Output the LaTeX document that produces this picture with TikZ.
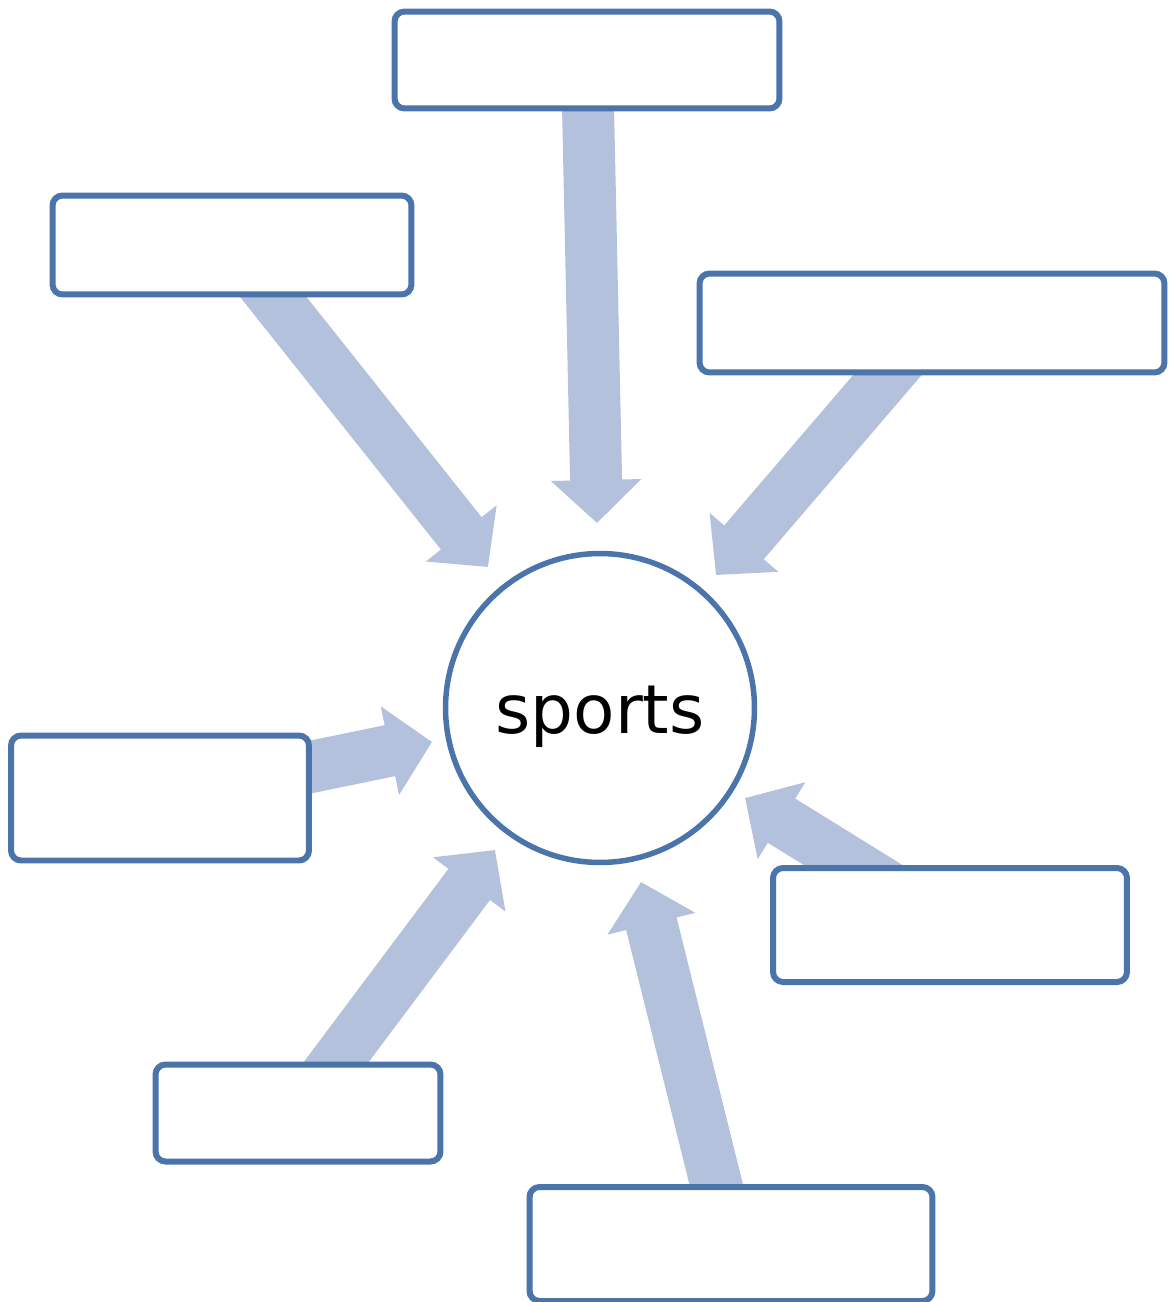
\documentclass[tikz,border=0pt]{standalone}
\usepackage{fontspec}
\setmainfont{DejaVu Sans}
\usetikzlibrary{arrows.meta}
\pgfdeclarelayer{bg}
\pgfsetlayers{bg,main}
\definecolor{boxblue}{RGB}{74,116,170}
\definecolor{arrowblue}{RGB}{179,193,220}

\begin{document}
\begin{tikzpicture}[x=0.02cm, y=-0.02cm,
    bubble/.style={draw=boxblue, line width=0.12cm, rounded corners=0.2cm, fill=white, inner sep=0pt},
    fatarrow/.style={arrowblue, line width=1.04cm, -{Triangle[width=1.76cm,length=0.86cm]}}]

    \useasboundingbox (0,0) rectangle (1172,1302);

    % ================= CENTRE =================
    \node[circle, draw=boxblue, line width=0.11cm, fill=white, inner sep=0pt,
          minimum size=6.18cm, text height=1.3cm, text depth=0.28cm,
          font=\fontsize{38.5}{40}\selectfont] (sports) at (600,708) {sports};

    % ================= EMPTY BOXES =================
    \node[bubble, minimum width=7.7cm,  minimum height=1.94cm] (bTop) at (587,60)  {};
    \node[bubble, minimum width=7.18cm, minimum height=1.98cm] (bUL)  at (232,245) {};
    \node[bubble, minimum width=9.3cm,  minimum height=1.98cm] (bUR)  at (932,323) {};
    \node[bubble, minimum width=5.96cm, minimum height=2.5cm]  (bL)   at (160,798) {};
    \node[bubble, minimum width=7.08cm, minimum height=2.28cm] (bLR)  at (950,925) {};
    \node[bubble, minimum width=5.7cm,  minimum height=1.94cm] (bBL)  at (298,1113) {};
    \node[bubble, minimum width=8.06cm, minimum height=2.28cm] (bB)   at (731,1244) {};

    % Arrow tips (around the circle)
    \coordinate (tTop) at (597,523);
    \coordinate (tUL)  at (488,567);
    \coordinate (tUR)  at (716,575);
    \coordinate (tL)   at (432,742);
    \coordinate (tLR)  at (745,798);
    \coordinate (tBL)  at (495,850);
    \coordinate (tB)   at (641,882);

    % ================= ARROWS (behind the boxes) =================
    \begin{pgfonlayer}{bg}
        \foreach \b/\t in {bTop/tTop, bUL/tUL, bUR/tUR, bL/tL, bLR/tLR, bBL/tBL, bB/tB}
            \draw[fatarrow] (\b.center) -- (\t);
    \end{pgfonlayer}

\end{tikzpicture}
\end{document}
